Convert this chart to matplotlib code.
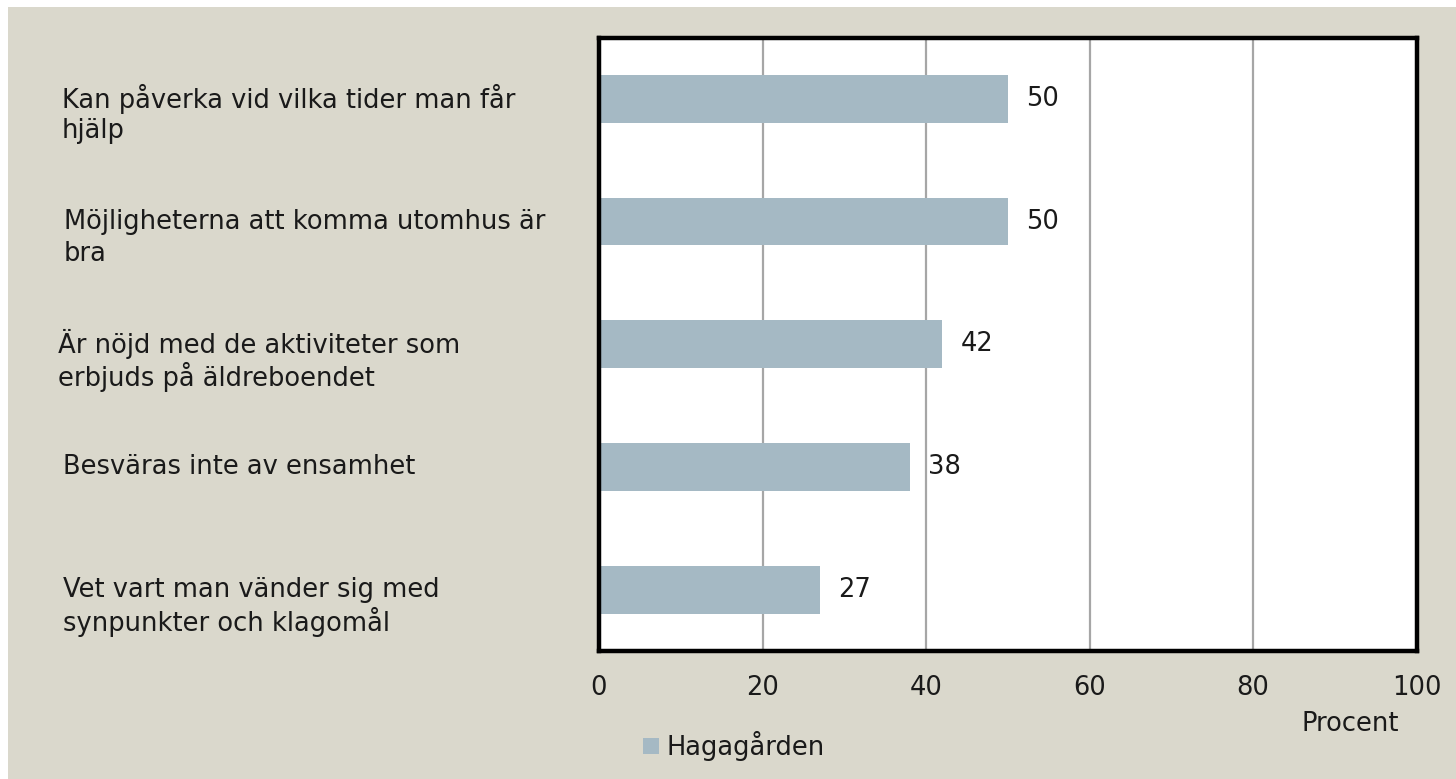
import matplotlib
matplotlib.use("Agg")
import matplotlib.pyplot as plt
from matplotlib.patches import Rectangle
from matplotlib.transforms import blended_transform_factory

categories = [
    "Kan påverka vid vilka tider man får\nhjälp",
    "Möjligheterna att komma utomhus är\nbra",
    "Är nöjd med de aktiviteter som\nerbjuds på äldreboendet",
    "Besväras inte av ensamhet",
    "Vet vart man vänder sig med\nsynpunkter och klagomål",
]
values = [50, 50, 42, 38, 27]
series_name = "Hagagården"
x_ticks = [0, 20, 40, 60, 80, 100]
x_label = "Procent"

# layout: left edge (pixels) of each category label
label_left_px = [62, 64, 58, 63, 63]

BG = "#DAD8CC"
BAR = "#A5B9C4"
FS = 18.5
plt.rcParams['font.family'] = ['DejaVu Sans']

W, H = 1456, 779
fig = plt.figure(figsize=(W / 100, H / 100), dpi=100, facecolor="white")
fig.patches.append(Rectangle((8 / W, 0), 1, 1 - 7 / H, transform=fig.transFigure,
                             facecolor=BG, edgecolor="none", zorder=-10))

ax = fig.add_axes([599 / W, (H - 651) / H, 817.5 / W, 613.5 / H])
ax.set_facecolor("white")

ypos = list(range(len(categories)))
bars = ax.barh(ypos, values, height=0.39, color=BAR, label=series_name, zorder=2)
ax.set_xlim(0, 100)
ax.set_ylim(len(categories) - 0.5, -0.5)
ax.set_xticks(x_ticks)
ax.set_xticklabels([str(t) for t in x_ticks])
ax.set_yticks([])
ax.tick_params(axis="x", length=0, pad=17, labelsize=FS, colors="#1a1a1a")
ax.grid(axis="x", color="#A6A6A6", linewidth=1.6, zorder=1)
for s in ax.spines.values():
    s.set_linewidth(3.2)
    s.set_color("black")

for y, v in zip(ypos, values):
    ax.annotate(str(v), xy=(v, y), xytext=(13, 0), textcoords="offset points",
                va="center", ha="left", fontsize=FS, color="#1a1a1a")

tr = blended_transform_factory(fig.transFigure, ax.transData)
for y, lab, lx in zip(ypos, categories, label_left_px):
    for j, line in enumerate(lab.split("\n")):
        ax.annotate(line, xy=(lx / W, y), xycoords=tr, xytext=(0, -j * 23.5),
                    textcoords="offset points", va="center", ha="left",
                    fontsize=FS, color="#1a1a1a", annotation_clip=False)

fig.text(1350 / W, 1 - 724 / H, x_label, ha="center", va="center", fontsize=FS, color="#1a1a1a")

fig.legend(handles=[bars], labels=[series_name], loc="center left",
           bbox_to_anchor=(643 / W, 1 - 746 / H), frameon=False, fontsize=FS,
           handlelength=0.62, handleheight=0.62, handletextpad=0.3,
           borderpad=0, borderaxespad=0, labelcolor="#1a1a1a")

fig.savefig("out.png", dpi=100, facecolor=fig.get_facecolor())
